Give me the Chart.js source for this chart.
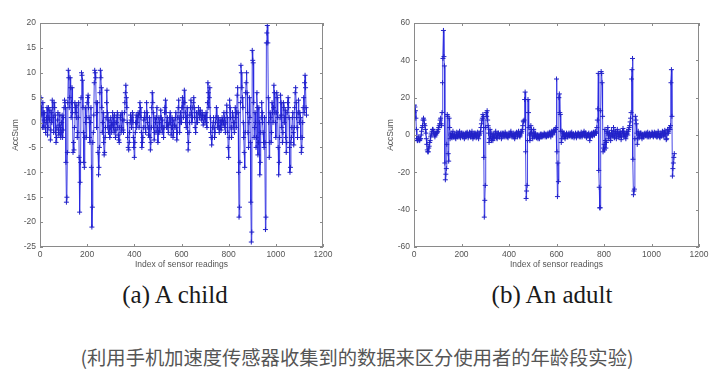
<!DOCTYPE html>
<html>
<head>
<meta charset="utf-8">
<script src="https://cdn.jsdelivr.net/npm/chart.js@4.4.0/dist/chart.umd.min.js"></script>
<style>
  body { margin: 0; background: #fff; width: 720px; height: 385px; position: relative; overflow: hidden; }
  .box { position: absolute; top: 0; height: 275px; }
  #childBox { left: 0; width: 340px; }
  #adultBox { left: 360px; width: 360px; }
  .cap { position: absolute; top: 281px; font-family: "Liberation Serif", serif; font-size: 25px; color: #1a1a1a; white-space: nowrap; transform: translateX(-50%); }
  #note { position: absolute; top: 343px; left: 357px; transform: translateX(-50%); white-space: nowrap;
          font-family: "Noto Sans CJK SC", sans-serif; font-size: 19.3px; color: #555; }
</style>
</head>
<body>
<div class="box" id="childBox"><canvas id="childChart"></canvas></div>
<div class="box" id="adultBox"><canvas id="adultChart"></canvas></div>
<div class="cap" style="left:175px">(a) A child</div>
<div class="cap" style="left:552px">(b) An adult</div>
<div id="note">(利用手机加速度传感器收集到的数据来区分使用者的年龄段实验)</div>

<script>
// one value every 2 sensor readings
const SAMPLE_STEP = 2;

const xTicks = [0, 200, 400, 600, 800, 1000, 1200];
const childYTicks = [-25, -20, -15, -10, -5, 0, 5, 10, 15, 20];
const adultYTicks = [-60, -40, -20, 0, 20, 40, 60];

const childAcc = [
  2, 4, 5, 3, 1.5, -1, 4, 2, -1, 0.5, 2, -1, -2, 0, 1, 3, -2.5, -1, 3, 1, 0.5, 2.5, -3.5, -1.5, 2, 0, 4.5, 3, 1, -2, 4, 3, 1.5, -2, -4, -3, -1, 0.5, 2, -1.5, -2.5, -0.5, 1.5, -1, -3, -2, 0, 1.5, -3, -1.5,
  1, 3, 4.5, 4, 3, -8, -16, -15, -6, 4, 10.5, 9, 3, 5, 9, 7, 1, 4, 7, 2, -6, -4, -5.5, -1, 4, 3, 2, 1, 3.5, -3, -2, 1, 4, -7, -18, -12, -8, 5, 10, 9.5, 8.5, 3, -2, -8, -9, -3, 3, 0, -3, 1,
  4, 5, 5.5, 3, 1, -3, -4, 0, 3, -9, -21, -17, -4, -2, 1.5, 8, 10.5, 10, 9, 4, -1, 2, 4, -6, -10.5, -9, -5, 6, 10.5, 9, 7, 3, -2, 0, 2, -4, -6.5, -6, -3, -1, 1, 4, 6.5, 2, -1, -2, 0.5, -1, -3, -1,
  1, 0, -2, -0.5, 2, 1, -1, -2, 1.5, 0, -3, -1.5, 0, 1, 2, -1, -2.5, -3.5, -4, -1, 1, 1.5, -2, -1, 2, 0.5, -1.5, -2, 0.5, 2, 4, 6, 7.5, 5, 3, 0, -3, -5, -5.5, -4, -2, 0, 1.5, 0.5, -1, 1, 2, 0, -3, -5,
  -7, -4, -2, 0, 1.5, -1, 0, 1, 2, 1.5, -1, 2, 4, 3, 1, -2, -5, -4, -3, -1, 0.5, 1, 2, -1, -2, 1, 4, 2, 0, -1, -2.5, -1, 1, -3, -5.5, -4, -1, 3, 6, 4, 2, -1, -3.5, -2, 1, 0, -2, 1, 3, -1,
  -4, -2, 1, 0, -2, 1, 2.5, 1, -1, -2, 0.5, -1, -3, -1, 2, 3, 4.5, 2, -1, 0, 1, -1, -2, -0.5, 0, 1, 2, 0, -2.5, -1, 1, -1, -3, -2, 0.5, -0.5, -1, 1, 2, -1, -3.5, -2, 1, 3, 4.5, 1, -2, 0, 2, 1,
  0, 3, 5, 3, 1, 4, 6.5, 4, 2, 0, -1, 1, 3, -2, -5.5, -4, -2, 0, 1.5, 3, 4.5, 2, 0, 1, 3, 4, 5, 3, 1, -1, -2, 0, 2, 1, 0, 2, 3, 2, 1, 2, 2.5, 1.5, 0.5, 1, 2, 1, -0.5, 0, 1.5, 1,
  0, 1, 2, 0, -1, 4, 8, 6, 3, 5, 7, 1, -2, -3, -4.5, -3, -1, 0, 1, -1, -3, -2, 0, 1, 3, 1, -1, 0, 1, -1, -2, -1, 0.5, -1, -1.5, 0, 1, 0.5, -0.5, 0, 2, 1, -1, -2, 0, 2, 3.5, 1, -2, -5,
  -7, -3, 4.5, 3, 1, -1, -3, -1, 2, 1, 0, -1, -2, 0, 3, 1, -1, 2, 5.5, 7, 2, -10, -19, -17, -8, 4, 11.5, 10, 7, 5, 3, 0, -3, -6, -9, -2, 6, 8, 10, 6, 2, -2, -5, 0, 5, 1, -4, -16, -24, -22,
  14.5, 12.5, 12, 4, -3, -1, 2, 0, -5, -3, 6, 3, -6.5, -4, 3, 0, -10.5, -8, -2, 1, 4, 2, 0, -2, -4, -5, 1, -4, -21.5, -19, 16, 18, 19.5, 16, 5, 0, -7, -4, 2, 1, -4, -2, 4, 2, 0, 3, 7.5, 6, 2, 0,
  -3, 2, 6, 5, 1, -5, -10.5, -8, -3, 1, 5.5, 4, 1.5, -1, -4, -2, 4, 3, 0, 1, 2.5, -3, -6, -4, 2, 4, 5, 3, 1, -5, -10, -9, -4, -3, -1, 1, 2, -2, -4.5, -1, 3, 6, 7, 4, 1, -1, -3, 2, 4.5, 2,
  0, 2, 1, -3, -6, -5, -3, 0, 3, 5, 2, 8, 9.5, 7, 3, 1.5
];

const adultAcc = [
  12, 16, 15, 13, 9, 3, -2, -3, -3, -2, -1, -2.5, -3, -2, -2, 0, 2, 4, 5, 8, 9, 8, 6, 5, 3, 1, -2, -5, -8, -9, -9, -7, -6, -4, -3, -1, 0, 1, 2, 3, 3, 2, 1, 0, -1, 0.5, 0, 1, 1, 1.5,
  2, 3, 4, 5, 6, 8, 9, 6, 5, 12, 28, 41, 56, 42, 37, -15, -24, -21, -18, -5, 11, 10, -10, -14, 9, 4, -2, 0, 1, -1, -1.5, 0.5, 2, -1, -1, 0, 0.5, -1.5, -2, 0, 1.5, -0.5, -1, 1, 0, -1, 2, 0, -1.5, 0,
  1, 0, -1, 1, 0.5, -1, -2, 0, 1, -1, -0.5, 1, 1.5, 0, -1.5, -0.5, 0, 1.5, 1, -1, -1, 0.5, 2, 0, -2, -1, 0.5, 1, -1, 0, 1, -1.5, -0.5, 0.5, 1.5, -1, -2, 0, 0, 1, 2, 4, 6, 8, 9, 11, 10, -12, -44, -35,
  -27, 4, 12, 10, 13, 8, 5, 1, -4, -2, 3, 0, -2, -3, 1, -1, -3, -1, 0.5, -1.5, -1, 1, 2, 0, -1.5, -2, 0, 1, 1, -0.5, -1, 0, 0.5, 1, -2, -1, 1, 0, -0.5, 1, 0, -1, 1.5, 0.5, -1, 0, 0.5, -1, -1.5, 0,
  1, 0, -0.5, 1, 2, 0.5, -1, 0, 0, -1, 1, 0, -2, -1, 0.5, 1, 1.5, 0, -1, 1, 2, 0.5, -0.5, -1, 0, 1.5, 1, 2, 3, 5, 7.5, 7, 8, 19, 23, -9, -34, -30, -27, -3, 19, 12, 4, 0, -3, 1, 5, 3, 1, -1,
  -2, 0, 3, 1, -1, 0, 1, -0.5, -1.5, -1, 0, -2, -1, 0, -2, -1, 0.5, 0, -1, 0.5, 0, -1, -0.5, 0, 1, 0.5, -1, 0, 0.5, -1, -0.5, 0, 1, -0.5, 0, 1, 1.5, 0, -1, 1, 2, 0, 0.5, 1.5, 2.5, 2, 1.5, 3, 3, 4,
  30, -9, -33, -15, -25, 20, 22, 12, 11, 2, -4, -2, 2, 0, -1, 1, 1, -1, -2, -0.5, 0, 1, 0.5, -1, -1, 0, 1, -0.5, -0.5, 1, 0, -1, 1.5, 0, -1, 0.5, 0.5, -1.5, -0.5, 0, 1, 0.5, -1.5, -0.5, 0, 1, 1, 0, -1, 0,
  0.5, -1, 1.5, 0, -1, 0.5, 0, 1, 2, 0, -0.5, 1, 1, -1.5, -1, 0, 0, 0.5, 1, -1, -3, -1, 0.5, 0, 1, -0.5, -0.5, 1, 1.5, 0, 0, 1.5, 2, 1, 1, 4, 8, 14, 33, -19, -28, -39, -39, 13, 34, 33, 28, 10, -9, -7,
  -5, -8, 3, -3, -7, -4, 2, 1, 4, 0, -2, 1, 1, -1, -3, 0, 2.5, 1, 0, -1, 4, 2, -1.5, 0, 2, 1, -2, -0.5, 3, 1, 0.5, -1, -1, 1, 2, 0, -2.5, -1, 1, 2, 3.5, 1, -1, 0, 1, -1, -2, 0.5, 2, 1,
  0, 2, 3, 4, 5, 7, 9, 12, 30, 35, 41, -13, -32, -30, -29, -2, 10, 8, 6, 1, -5, -2, 2, 0, -1.5, 0, 0, 1, 1, -1, -2, 0, 0.5, -1, -1, 0.5, 1, 0, -0.5, 1, 0, -1, 1.5, 0, -1, 0.5, 1, -1, -0.5, 0,
  0, 1.5, 1, -0.5, -1, 0, 1.5, 0.5, -0.5, 1, 0.5, -1, -1, 0.5, 2, 1, 0, -1, -1.5, 0, 1, -0.5, 0, 2, 1.5, 0, -1, 1, 2.5, 1, 0, -2.5, -2, 1, 3, 2, 1, 3, 4, 3, 5, 28, 35, 10, -22, -18, -15, -12, -10
];

const LINE_BLUE = 'rgba(40, 40, 225, 0.85)';
const MARK_BLUE = '#2222c8';
const TEXT_GREY = '#555';

// box around the plot plus little inward ticks on all four sides
const matlabFrame = {
  id: 'matlabFrame',
  afterDraw(chart) {
    const { ctx, chartArea: a, scales: { x, y } } = chart;
    ctx.save();
    ctx.strokeStyle = '#8a8a8a';
    ctx.lineWidth = 1;
    ctx.strokeRect(a.left + 0.5, a.top + 0.5, a.width - 1, a.height - 1);
    ctx.beginPath();
    x.ticks.forEach(t => {
      const px = Math.round(x.getPixelForValue(t.value)) + 0.5;
      ctx.moveTo(px, a.bottom); ctx.lineTo(px, a.bottom - 3);
      ctx.moveTo(px, a.top); ctx.lineTo(px, a.top + 3);
    });
    y.ticks.forEach(t => {
      const py = Math.round(y.getPixelForValue(t.value)) + 0.5;
      ctx.moveTo(a.left, py); ctx.lineTo(a.left + 3, py);
      ctx.moveTo(a.right, py); ctx.lineTo(a.right - 3, py);
    });
    ctx.stroke();
    ctx.restore();
  }
};

function makeChart(id, values, yTicks, yAxisWidth, rightPad, yTitlePad) {
  const points = values.map((v, i) => ({ x: i * SAMPLE_STEP, y: v }));
  const tickFont = { family: '"Liberation Sans", Arial, sans-serif', size: 8.5 };
  return new Chart(document.getElementById(id), {
    type: 'line',
    data: {
      datasets: [{
        data: points,
        borderColor: LINE_BLUE,
        borderWidth: 1,
        pointStyle: 'cross',
        pointRadius: 2.5,
        pointBorderColor: MARK_BLUE,
        pointBorderWidth: 1,
        tension: 0
      }]
    },
    options: {
      responsive: true,
      maintainAspectRatio: false,
      animation: false,
      devicePixelRatio: 1,
      layout: { padding: { top: 23, right: rightPad, left: 0, bottom: 0 } },
      plugins: { legend: { display: false }, tooltip: { enabled: false } },
      scales: {
        x: {
          type: 'linear',
          min: 0,
          max: 1200,
          afterBuildTicks: s => { s.ticks = xTicks.map(v => ({ value: v })); },
          afterFit: s => { s.height = 28; },
          grid: { display: false, drawTicks: false },
          border: { display: false },
          ticks: { color: TEXT_GREY, font: tickFont, padding: 3, maxRotation: 0, callback: v => String(v) },
          title: { display: true, text: 'Index of sensor readings', color: TEXT_GREY, font: tickFont, padding: { top: 0, bottom: 5 } }
        },
        y: {
          type: 'linear',
          min: yTicks[0],
          max: yTicks[yTicks.length - 1],
          afterBuildTicks: s => { s.ticks = yTicks.map(v => ({ value: v })); },
          afterFit: s => { s.width = yAxisWidth; },
          grid: { display: false, drawTicks: false },
          border: { display: false },
          ticks: { color: TEXT_GREY, font: tickFont, padding: 4, callback: v => String(v) },
          title: { display: true, text: 'AccSum', color: TEXT_GREY, font: tickFont, padding: { top: yTitlePad, bottom: 0 } }
        }
      }
    },
    plugins: [matlabFrame]
  });
}

makeChart('childChart', childAcc, childYTicks, 40, 17, 11);
makeChart('adultChart', adultAcc, adultYTicks, 54, 21, 26);
</script>
</body>
</html>
